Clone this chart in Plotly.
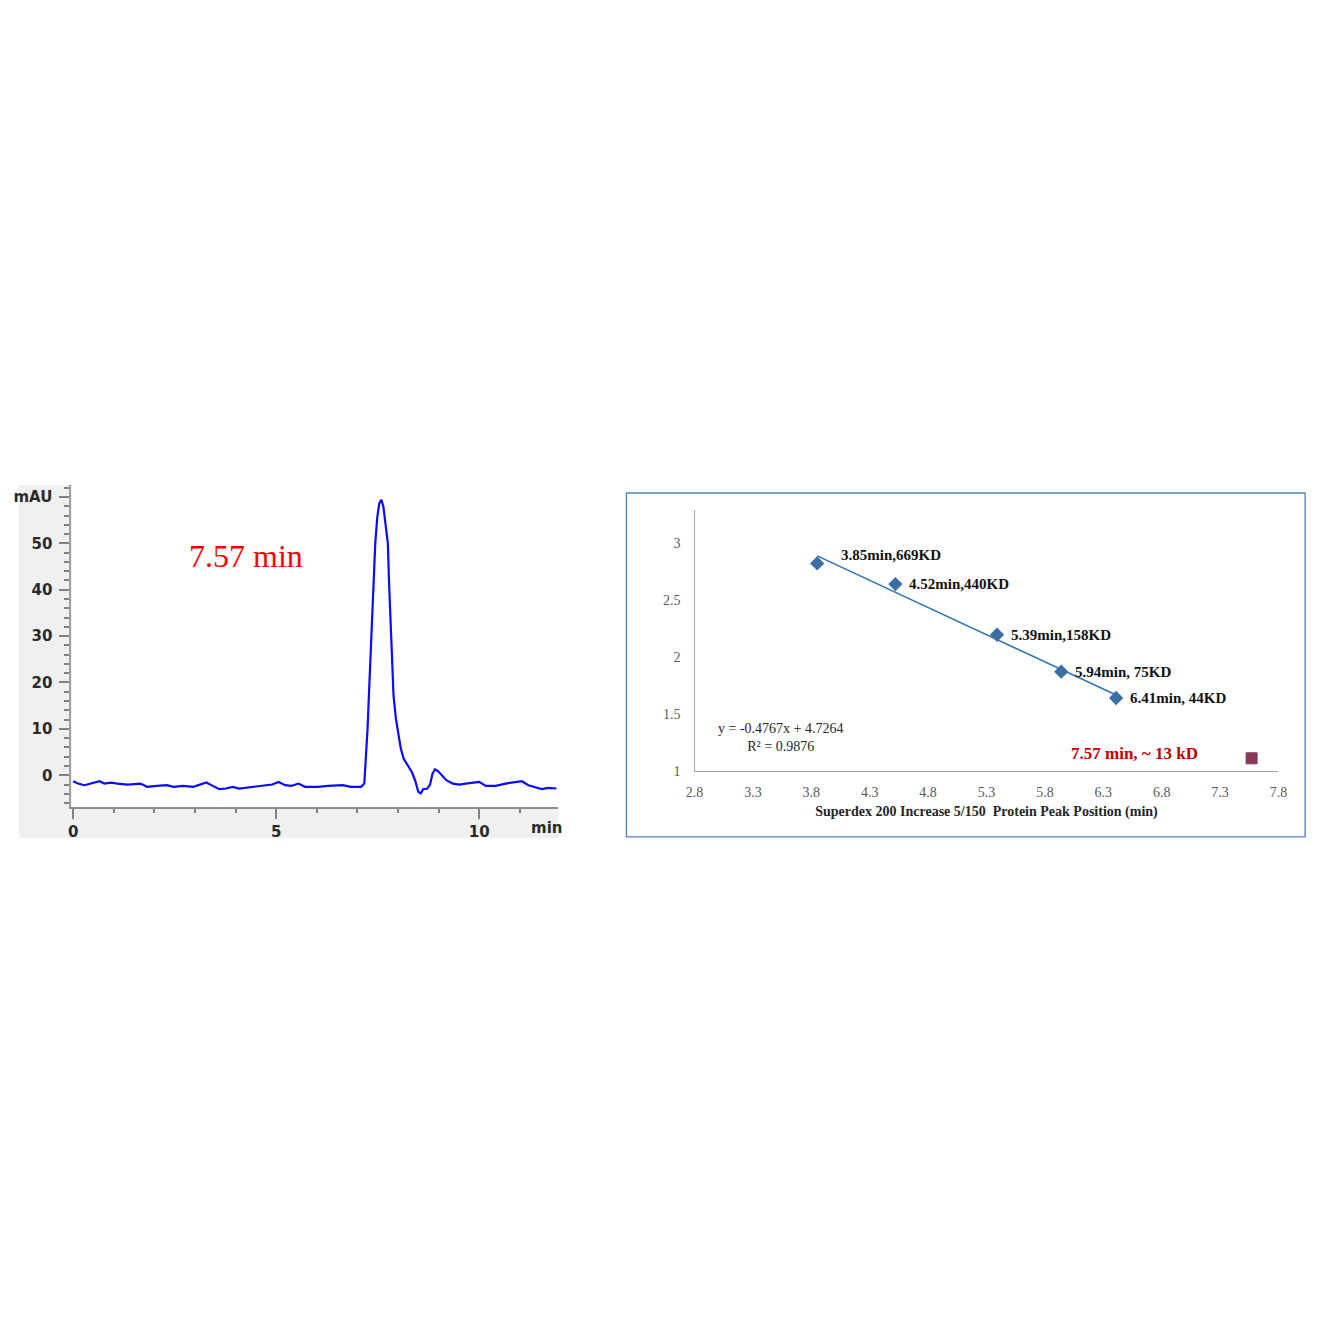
import math
import plotly.graph_objects as go

W = H = 1321

def fx(p):
    return p / W

def fy(p):
    return 1 - p / H

# ---------------- Left chart data (chromatogram) ----------------
time_min = [0.00, 0.12, 0.28, 0.45, 0.65, 0.77, 0.93, 1.09, 1.34, 1.66, 1.82, 2.06, 2.31, 2.47,
            2.71, 2.96, 3.12, 3.28, 3.44, 3.60, 3.76, 3.93, 4.09, 4.41, 4.66, 4.90, 5.06, 5.22,
            5.38, 5.55, 5.71, 6.03, 6.27, 6.64, 6.84, 7.09, 7.17, 7.21, 7.25, 7.29, 7.34, 7.39,
            7.44, 7.49, 7.54, 7.59, 7.64, 7.69, 7.75, 7.78, 7.81, 7.85, 7.89, 7.95, 8.01, 8.07,
            8.14, 8.23, 8.34, 8.42, 8.50, 8.56, 8.62, 8.72, 8.79, 8.85, 8.91, 8.99, 9.07, 9.19,
            9.35, 9.51, 9.67, 9.84, 10.00, 10.16, 10.40, 10.65, 10.89, 11.05, 11.21, 11.38,
            11.54, 11.70, 11.90]
mau = [-1.29, -1.79, -2.14, -1.79, -1.29, -1.79, -1.57, -1.79, -2.0, -1.79, -2.5, -2.29, -2.14,
       -2.5, -2.29, -2.5, -2.0, -1.57, -2.29, -3.0, -2.86, -2.5, -2.86, -2.5, -2.14, -2.0, -1.43,
       -2.14, -2.29, -1.79, -2.5, -2.5, -2.29, -2.14, -2.5, -2.5, -1.79, 3.57, 10.0, 18.6, 30.0,
       40.0, 50.0, 55.7, 58.6, 59.4, 57.9, 54.3, 50.0, 41.4, 34.3, 25.7, 17.1, 12.1, 8.6, 5.7,
       3.57, 2.14, 0.71, -1.07, -3.57, -3.93, -3.0, -2.86, -2.0, 0.36, 1.29, 0.86, 0.0, -1.07,
       -1.79, -2.0, -1.79, -1.57, -1.43, -2.29, -2.29, -1.79, -1.43, -1.29, -2.14, -2.5, -3.0,
       -2.71, -2.86]
left_y_ticks = [0, 10, 20, 30, 40, 50, 60]
left_y_ticktext = ["0", "10", "20", "30", "40", "50", "mAU"]
left_x_ticks = [0, 5, 10]
left_x_ticktext = ["0", "5", "10"]
peak_label = "7.57 min"

# ---------------- Right chart data (calibration) ----------------
cal_time = [3.85, 4.52, 5.39, 5.94, 6.41]
cal_mw_kd = [669, 440, 158, 75, 44]
cal_labels = ["3.85min,669KD", "4.52min,440KD", "5.39min,158KD", "5.94min, 75KD", "6.41min, 44KD"]
sample_time = 7.57
sample_mw_kd = 13
sample_label = "7.57 min, ~ 13 kD"
fit_slope = -0.4767
fit_intercept = 4.7264
fit_r2 = 0.9876
right_x_ticks = [2.8, 3.3, 3.8, 4.3, 4.8, 5.3, 5.8, 6.3, 6.8, 7.3, 7.8]
right_y_ticks = [1, 1.5, 2, 2.5, 3]
right_x_title = "Superdex 200 Increase 5/150  Protein Peak Position (min)"

cal_log = [math.log10(v) for v in cal_mw_kd]
sample_log = math.log10(sample_mw_kd)
fit_x = [cal_time[0], cal_time[-1]]
fit_y = [fit_slope * x + fit_intercept for x in fit_x]

fig = go.Figure()

# Left trace
fig.add_trace(go.Scatter(x=time_min, y=mau, mode="lines",
                         line=dict(color="#0a0aff", width=2.2),
                         xaxis="x", yaxis="y", showlegend=False, hoverinfo="skip"))

# Right traces
fig.add_trace(go.Scatter(x=fit_x, y=fit_y, mode="lines",
                         line=dict(color="#2e75b6", width=1.6),
                         xaxis="x2", yaxis="y2", showlegend=False))
fig.add_trace(go.Scatter(x=cal_time, y=cal_log, mode="markers",
                         marker=dict(symbol="diamond", size=11, color="#3b6ea5"),
                         xaxis="x2", yaxis="y2", showlegend=False))
fig.add_trace(go.Scatter(x=[sample_time], y=[sample_log], mode="markers",
                         marker=dict(symbol="square", size=11, color="#8e3a55",
                                     line=dict(color="#7a3b6b", width=1)),
                         xaxis="x2", yaxis="y2", showlegend=False))

shapes = [
    # gray frame of the chromatogram
    dict(type="rect", xref="paper", yref="paper", x0=fx(10), x1=fx(557), y0=fy(843), y1=fy(488),
         fillcolor="#f0f0f0", line=dict(width=0), layer="below"),
    dict(type="rect", xref="paper", yref="paper", x0=fx(64), x1=fx(557), y0=fy(812), y1=fy(488),
         fillcolor="#ffffff", line=dict(width=0), layer="below"),
    # border of calibration chart
    dict(type="rect", xref="paper", yref="paper", x0=fx(626), x1=fx(1314), y0=fy(842), y1=fy(496),
         fillcolor="rgba(0,0,0,0)", line=dict(color="#4f81bd", width=1.3), layer="below"),
]

annotations = [
    dict(xref="paper", yref="paper", x=fx(240), y=fy(559), text=peak_label, showarrow=False,
         font=dict(family="Liberation Serif", size=32, color="#ff0000"),
         xanchor="center", yanchor="middle"),
    dict(xref="paper", yref="paper", x=fx(545), y=fy(833), text="min", showarrow=False,
         font=dict(family="DejaVu Sans", size=15, color="#2a2a2a", weight="bold"),
         xanchor="center", yanchor="middle"),
    dict(xref="paper", yref="paper", x=fx(782), y=fy(742), text=f"y = {fit_slope}x + {fit_intercept}<br>R² = {fit_r2}",
         showarrow=False, align="center",
         font=dict(family="Liberation Serif", size=14, color="#262626"),
         xanchor="center", yanchor="middle"),
    dict(xref="x2", yref="y2", x=sample_time, y=sample_log, text=sample_label, showarrow=False,
         font=dict(family="Liberation Serif", size=17, color="#c00000", weight="bold"),
         xanchor="right", yanchor="middle", xshift=-52, yshift=5),
]
for i, (t, lv, lab) in enumerate(zip(cal_time, cal_log, cal_labels)):
    annotations.append(dict(xref="x2", yref="y2", x=t, y=lv, text=lab, showarrow=False,
                            font=dict(family="Liberation Serif", size=15, color="#111111", weight="bold"),
                            xanchor="left", yanchor="middle",
                            xshift=22 if i == 0 else 12, yshift=8 if i == 0 else 0))

fig.update_layout(
    width=W, height=H, autosize=False,
    margin=dict(l=0, r=0, t=0, b=0),
    paper_bgcolor="white", plot_bgcolor="rgba(0,0,0,0)",
    shapes=shapes, annotations=annotations,
    xaxis=dict(domain=[fx(63), fx(557)], range=[-0.049, 11.95], anchor="y",
               tickmode="array", tickvals=left_x_ticks, ticktext=left_x_ticktext,
               ticks="outside", ticklen=10, tickcolor="#808080", tickwidth=1.5,
               minor=dict(tickmode="linear", tick0=0, dtick=1, ticks="outside", ticklen=4,
                          tickcolor="#808080", tickwidth=1.5),
               showline=True, linecolor="#8c8c8c", linewidth=2,
               showgrid=False, zeroline=False,
               tickfont=dict(family="DejaVu Sans", size=15, color="#2a2a2a", weight="bold")),
    yaxis=dict(domain=[fy(812), fy(488)], range=[-6.86, 62.57], anchor="x",
               tickmode="array", tickvals=left_y_ticks, ticktext=left_y_ticktext,
               ticks="outside", ticklen=10, tickcolor="#808080", tickwidth=1.5,
               minor=dict(tickmode="linear", tick0=0, dtick=2, ticks="outside", ticklen=5,
                          tickcolor="#808080", tickwidth=1.5),
               showline=True, linecolor="#a0a0a0", linewidth=1.5,
               showgrid=False, zeroline=False, ticklabelstandoff=4,
               tickfont=dict(family="DejaVu Sans", size=15, color="#2a2a2a", weight="bold")),
    xaxis2=dict(domain=[fx(695), fx(1287)], range=[2.8, 7.8], anchor="y2",
                tickmode="array", tickvals=right_x_ticks, ticktext=[f"{v:.1f}" for v in right_x_ticks],
                ticks="", showline=True, linecolor="#a6a6a6", linewidth=1.3,
                showgrid=False, zeroline=False, ticklabelstandoff=8,
                tickfont=dict(family="Liberation Serif", size=14, color="#595959"),
                title=dict(text=right_x_title, standoff=6,
                           font=dict(family="Liberation Serif", size=14, color="#262626", weight="bold"))),
    yaxis2=dict(domain=[fy(776), fy(513)], range=[1, 3.295], anchor="x2",
                tickmode="array", tickvals=right_y_ticks, ticktext=[f"{v:g}" for v in right_y_ticks],
                ticks="", showline=True, linecolor="#a6a6a6", linewidth=1.3,
                showgrid=False, zeroline=False, ticklabelstandoff=10,
                tickfont=dict(family="Liberation Serif", size=14, color="#595959")),
)

fig.write_html("out.html", config={"displayModeBar": False},
               post_script="document.body.style.margin='0';document.body.style.overflow='hidden';")
